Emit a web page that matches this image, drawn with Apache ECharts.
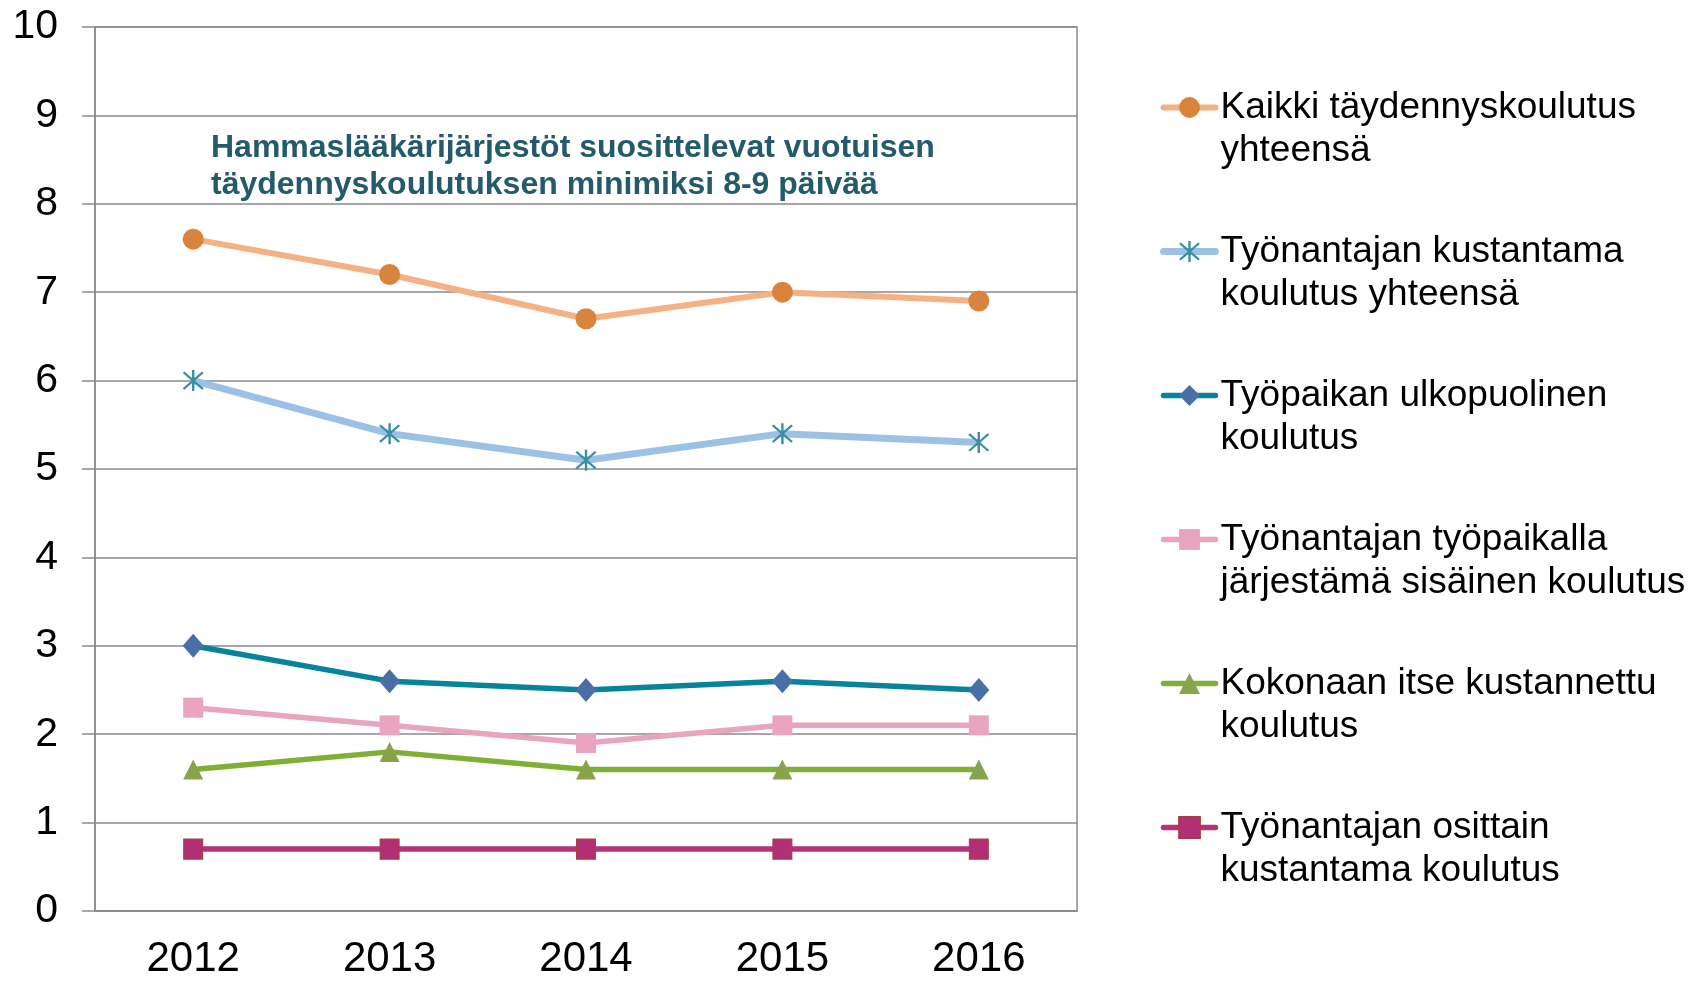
<!DOCTYPE html>
<html>
<head>
<meta charset="utf-8">
<script src="https://cdn.jsdelivr.net/npm/echarts@6/dist/echarts.min.js"></script>
<style>
html,body{margin:0;padding:0;background:#fff;}
#chart{width:1703px;height:981px;}
</style>
</head>
<body>
<div id="chart"></div>
<script>
const categories = ['2012', '2013', '2014', '2015', '2016'];
const seriesNames = [
  'Kaikki täydennyskoulutus\nyhteensä',
  'Työnantajan kustantama\nkoulutus yhteensä',
  'Työpaikan ulkopuolinen\nkoulutus',
  'Työnantajan työpaikalla\njärjestämä sisäinen koulutus',
  'Kokonaan itse kustannettu\nkoulutus',
  'Työnantajan osittain\nkustantama koulutus'
];
const kaikki = [7.6, 7.2, 6.7, 7.0, 6.9];
const tyonantajanKustantama = [6.0, 5.4, 5.1, 5.4, 5.3];
const ulkopuolinen = [3.0, 2.6, 2.5, 2.6, 2.5];
const sisainen = [2.3, 2.1, 1.9, 2.1, 2.1];
const itseKustannettu = [1.6, 1.8, 1.6, 1.6, 1.6];
const osittain = [0.7, 0.7, 0.7, 0.7, 0.7];
const yTicks = { min: 0, max: 10, interval: 1 };
const noteText = 'Hammaslääkärijärjestöt suosittelevat vuotuisen\ntäydennyskoulutuksen minimiksi 8-9 päivää';

const FONT = '"Liberation Sans", Arial, sans-serif';
const asterisk = 'path://M9,0L11,0L11,20L9,20Z M2.7,1.3L18.7,17.3L17.3,18.7L1.3,2.7Z M18.7,2.7L2.7,18.7L1.3,17.3L17.3,1.3Z';

function mk(name, data, lineColor, symbol, symbolColor, size, lineWidth, extraItem) {
  return {
    name: name,
    type: 'line',
    data: data,
    symbol: symbol,
    symbolSize: size,
    color: symbolColor,
    lineStyle: { color: lineColor, width: lineWidth },
    itemStyle: Object.assign({ color: symbolColor, borderWidth: 0 }, extraItem || {}),
    emphasis: { disabled: true }
  };
}

const lineWidths = [6, 7, 5.5, 5.5, 5.5, 5.5];

const chart = echarts.init(document.getElementById('chart'), null, { renderer: 'canvas' });
chart.setOption({
  animation: false,
  backgroundColor: '#ffffff',
  textStyle: { fontFamily: FONT },
  grid: {
    left: 95, right: 626, top: 27, bottom: 70,
    show: true, borderColor: '#8a8a8a', borderWidth: 1.5, backgroundColor: 'transparent'
  },
  xAxis: {
    type: 'category',
    data: categories,
    boundaryGap: true,
    axisLine: { show: true, lineStyle: { color: '#8a8a8a', width: 1.5 } },
    axisTick: { show: false },
    axisLabel: { color: '#000', fontSize: 42, fontFamily: FONT, margin: 27 },
    splitLine: { show: false }
  },
  yAxis: {
    type: 'value',
    min: yTicks.min, max: yTicks.max, interval: yTicks.interval,
    axisLine: { show: true, lineStyle: { color: '#8a8a8a', width: 1.5 } },
    axisTick: { show: true, inside: false, length: 13, lineStyle: { color: '#8a8a8a', width: 1.5 } },
    axisLabel: { color: '#000', fontSize: 41, fontFamily: FONT, margin: 37 },
    splitLine: { show: true, lineStyle: { color: '#8a8a8a', width: 1.5 } }
  },
  legend: {
    orient: 'vertical',
    left: 1160,
    top: 43,
    padding: 0,
    itemWidth: 52,
    itemHeight: 26,
    itemGap: 15,
    selectedMode: false,
    formatter: function (name) { return '\n' + name; },
    lineStyle: { width: 6, cap: 'round' },
    textStyle: { color: '#000', fontSize: 37, fontFamily: FONT, lineHeight: 43 },
    data: seriesNames.map(function (n, i) { return { name: n, lineStyle: { width: lineWidths[i], cap: 'round' } }; })
  },
  graphic: [{
    type: 'text',
    left: 211,
    top: 130,
    silent: true,
    style: {
      text: noteText,
      fill: '#235B6A',
      font: 'bold 32px ' + FONT,
      lineHeight: 37
    }
  }],
  series: [
    mk(seriesNames[0], kaikki, '#F4B183', 'circle', '#D9843C', 21, lineWidths[0]),
    mk(seriesNames[1], tyonantajanKustantama, '#9BC2E5', asterisk, '#3A8EA6', 21, lineWidths[1]),
    mk(seriesNames[2], ulkopuolinen, '#07849B', 'diamond', '#4870A6', [21, 24], lineWidths[2]),
    mk(seriesNames[3], sisainen, '#E9A4C0', 'rect', '#E9A4C0', 20, lineWidths[3]),
    mk(seriesNames[4], itseKustannettu, '#80AF35', 'triangle', '#87A34C', 20, lineWidths[4]),
    mk(seriesNames[5], osittain, '#B5327A', 'rect', '#B22F75', [19, 20], lineWidths[5], { borderWidth: 1, borderColor: '#A0403E' })
  ]
});
</script>
</body>
</html>
